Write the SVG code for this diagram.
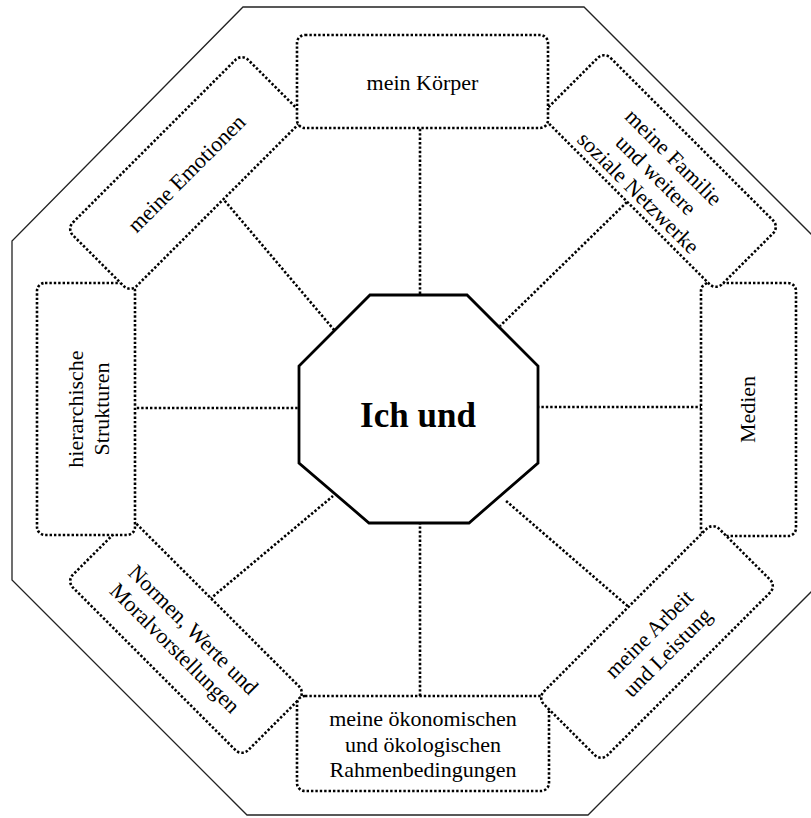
<svg xmlns="http://www.w3.org/2000/svg" width="811" height="818" viewBox="0 0 811 818">
<style>
.box{fill:#fff;stroke:#000;stroke-width:2.6;stroke-dasharray:2.4 2}
.con{fill:none;stroke:#000;stroke-width:2.6;stroke-dasharray:2.4 2}
.lbl{font-family:"Liberation Serif","Times New Roman",serif;font-size:22px;fill:#000;text-anchor:middle}
.title{font-family:"Liberation Serif","Times New Roman",serif;font-size:35px;font-weight:bold;fill:#000;text-anchor:middle}
</style>
<rect x="0" y="0" width="811" height="818" fill="#fff"/>
<polygon id="outer" points="243,7 584,7 822,245 822,581 588,815 247,815 12,580 12,241" fill="#fff" stroke="#222" stroke-width="1.3"/>
<g id="connectors">
<path class="con" d="M420,120 V296"/>
<path class="con" d="M420,522 V700"/>
<path class="con" d="M128,408 H300"/>
<path class="con" d="M537,407 H708"/>
<path class="con" d="M219,194 L335,331"/>
<path class="con" d="M630,199 L500,326"/>
<path class="con" d="M210,599 L333,496"/>
<path class="con" d="M631,609 L505,500"/>
</g>
<g id="n-normen" transform="translate(186,637) rotate(45)">
<rect class="box" x="-124" y="-45" width="248" height="90" rx="9"/>
<text class="lbl" x="0" y="-3">Normen, Werte und</text>
<text class="lbl" x="0" y="23">Moralvorstellungen</text>
</g>
<g id="n-rahmen">
<rect class="box" x="297" y="696" width="252" height="95" rx="8"/>
<text class="lbl" x="423" y="726">meine ökonomischen</text>
<text class="lbl" x="423" y="752">und ökologischen</text>
<text class="lbl" x="423" y="777">Rahmenbedingungen</text>
</g>
<g id="n-medien">
<rect class="box" x="701" y="283" width="95" height="253" rx="8"/>
<text class="lbl" transform="translate(748.5,409.5) rotate(-90)" x="0" y="6">Medien</text>
</g>
<g id="n-arbeit" transform="translate(657,642) rotate(-45)">
<rect class="box" x="-124" y="-45" width="248" height="90" rx="9"/>
<text class="lbl" x="0" y="-4">meine Arbeit</text>
<text class="lbl" x="0" y="22">und Leistung</text>
</g>
<g id="n-hier">
<rect class="box" x="37" y="283" width="98" height="252" rx="8"/>
<text class="lbl" transform="translate(86,409) rotate(-90)" x="0" y="-3">hierarchische</text>
<text class="lbl" transform="translate(86,409) rotate(-90)" x="0" y="23">Strukturen</text>
</g>
<g id="n-emotionen" transform="translate(186,173) rotate(-45)">
<rect class="box" x="-124" y="-45" width="248" height="90" rx="9"/>
<text class="lbl" x="0" y="8">meine Emotionen</text>
</g>
<g id="n-familie" transform="translate(660,171) rotate(45)">
<rect class="box" x="-124" y="-45" width="248" height="90" rx="9"/>
<text class="lbl" x="0" y="-12">meine Familie</text>
<text class="lbl" x="0" y="13">und weitere</text>
<text class="lbl" x="0" y="38">soziale Netzwerke</text>
</g>
<g id="n-koerper">
<rect class="box" x="297" y="35" width="251" height="93" rx="8"/>
<text class="lbl" x="422.5" y="90">mein Körper</text>
</g>
<g id="n-center">
<polygon points="370,295 467,295 538,366 538,463 469,523 369,523 299,463 299,366" fill="#fff" stroke="#000" stroke-width="2.8"/>
<text class="title" x="418" y="427">Ich und</text>
</g>
</svg>
